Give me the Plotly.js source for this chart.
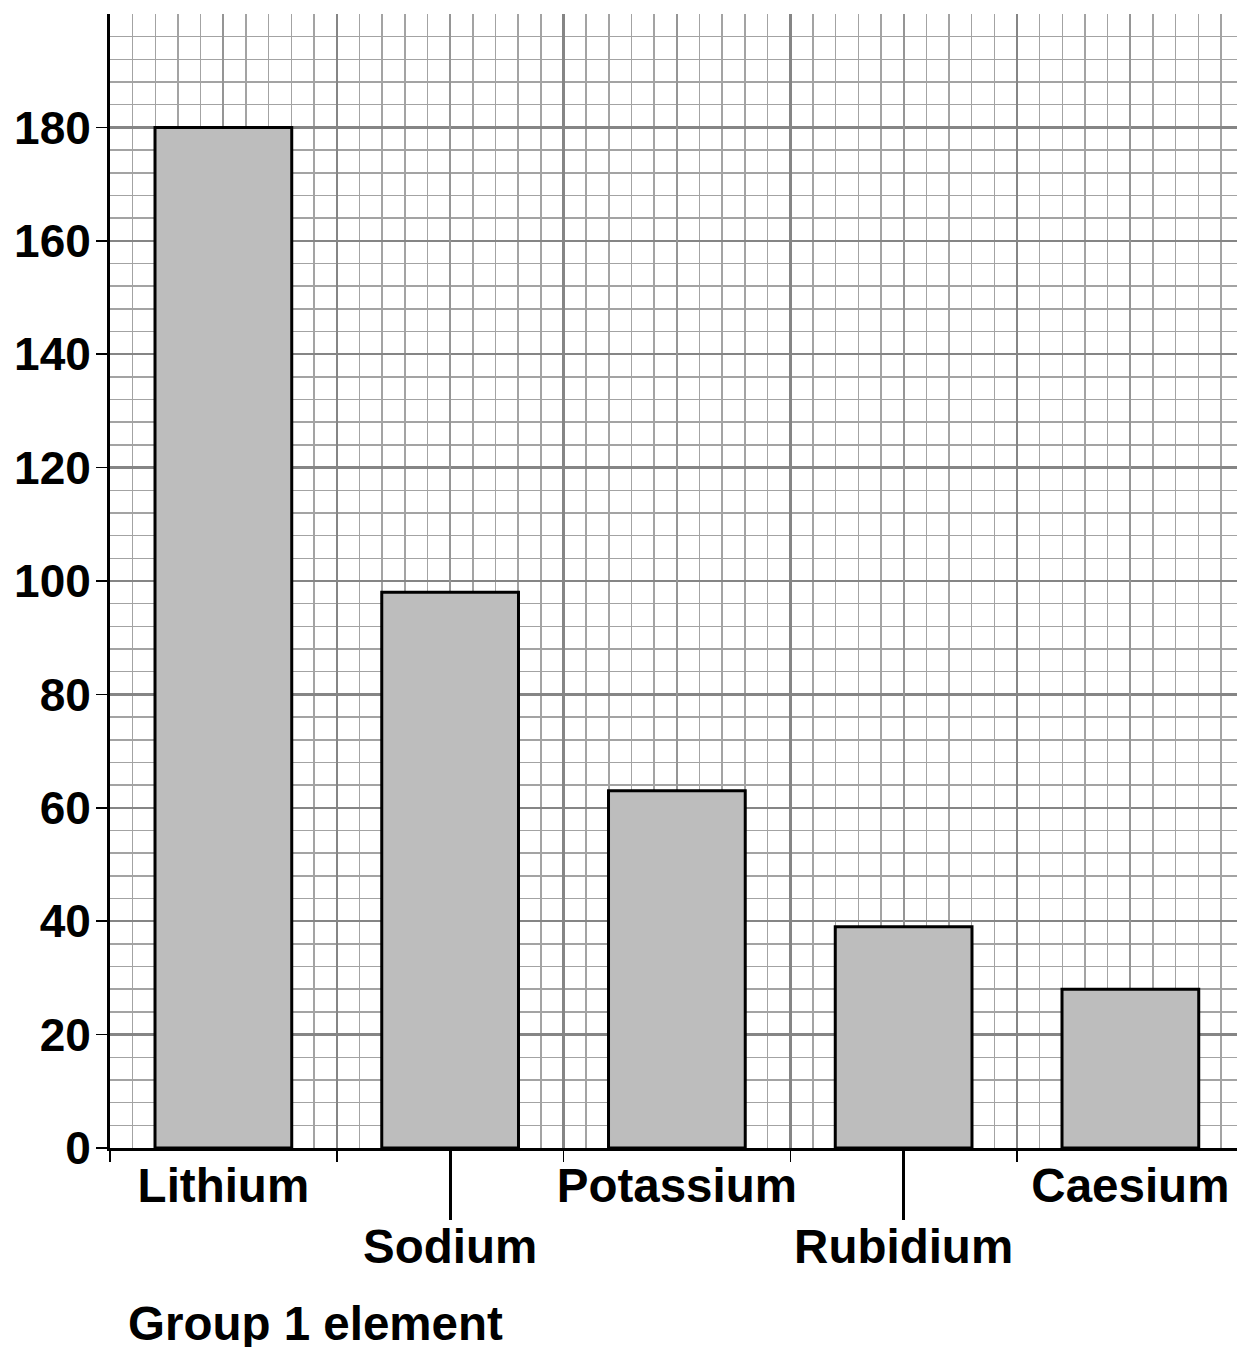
<!DOCTYPE html>
<html>
<head>
<meta charset="utf-8">
<script src="https://cdn.plot.ly/plotly-3.0.1.min.js"></script>
<style>
  html, body { margin: 0; padding: 0; background: #fff; }
  #chart { width: 1237px; height: 1348px; }
</style>
</head>
<body>
<div id="chart"></div>
<script>
// ---- data ----
const elements = ['Lithium', 'Sodium', 'Potassium', 'Rubidium', 'Caesium'];
const values = [180, 98, 63, 39, 28];
const yTickVals = [0, 20, 40, 60, 80, 100, 120, 140, 160, 180];
const xTitle = 'Group 1 element';

// ---- layout helpers ----
const FONT = 'Arial, "Liberation Sans", Helvetica, sans-serif';
const W = 1237, H = 1348;
const mL = 110, mR = 0, mT = 14, mB = 200;
const plotW = W - mL - mR;
const catPx = 226.75;
const xMax = -0.5 + plotW / catPx;
const xRange = [-0.5, xMax];

const idx = elements.map((_, i) => i);
const boundaries = [];
for (let i = 0; i < elements.length; i++) boundaries.push(i - 0.5);
const staggered = elements.map((e, i) => (i % 2 === 1 ? '<br>' + e : e));
const longTickIdx = idx.filter(i => i % 2 === 1);

const MAJOR = '#858585';
const MID = '#959595';
const MINOR = '#a3a3a3';

const traces = [
  {
    type: 'bar',
    x: idx,
    y: values,
    width: 0.603,
    marker: { color: '#bdbdbd', line: { color: '#000', width: 3 } },
    hoverinfo: 'skip',
    xaxis: 'x', yaxis: 'y'
  },
  { type: 'scatter', x: [0], y: [0], mode: 'none', xaxis: 'x2', yaxis: 'y', hoverinfo: 'skip', showlegend: false },
  { type: 'scatter', x: [0], y: [0], mode: 'none', xaxis: 'x3', yaxis: 'y', hoverinfo: 'skip', showlegend: false }
];

const layout = {
  width: W, height: H,
  margin: { l: mL, r: mR, t: mT, b: mB, pad: 0 },
  paper_bgcolor: '#fff', plot_bgcolor: '#fff',
  showlegend: false,
  font: { family: FONT, color: '#000' },
  xaxis: {
    range: xRange, autorange: false,
    tickmode: 'array', tickvals: boundaries,
    showticklabels: false,
    ticks: 'outside', ticklen: 11, tickwidth: 1.5, tickcolor: '#000',
    showgrid: true, gridcolor: MAJOR, gridwidth: 2.5,
    minor: { dtick: 0.1, tick0: -0.5, showgrid: true, gridcolor: MINOR, gridwidth: 1.5, ticks: '' },
    showline: true, linecolor: '#000', linewidth: 3,
    zeroline: false, fixedrange: true
  },
  xaxis2: {
    overlaying: 'x', anchor: 'y', side: 'bottom',
    range: xRange, autorange: false,
    tickmode: 'array', tickvals: idx, ticktext: staggered,
    tickangle: 0,
    ticks: '', ticklen: 0,
    ticklabelstandoff: 5,
    tickfont: { family: FONT, size: 47.5, color: '#000', weight: 'bold' },
    showgrid: true, gridcolor: MID, gridwidth: 2,
    showline: false, zeroline: false, fixedrange: true
  },
  xaxis3: {
    overlaying: 'x', anchor: 'y', side: 'bottom',
    range: xRange, autorange: false,
    tickmode: 'array', tickvals: longTickIdx,
    showticklabels: false,
    ticks: 'outside', ticklen: 71, tickwidth: 3, tickcolor: '#000',
    showgrid: false, showline: false, zeroline: false, fixedrange: true
  },
  yaxis: {
    range: [0, 200], autorange: false,
    tickmode: 'array', tickvals: yTickVals,
    ticks: 'outside', ticklen: 11, tickwidth: 1.5, tickcolor: '#000',
    ticklabelstandoff: -4,
    tickfont: { family: FONT, size: 46, color: '#000', weight: 'bold' },
    showgrid: true, gridcolor: MAJOR, gridwidth: 2.5,
    minor: { dtick: 4, tick0: 0, showgrid: true, gridcolor: MINOR, gridwidth: 1.5, ticks: '' },
    showline: true, linecolor: '#000', linewidth: 3,
    zeroline: false, fixedrange: true
  },
  annotations: [
    {
      text: '<b>' + xTitle + '</b>',
      xref: 'paper', yref: 'paper',
      x: (126 - mL) / plotW, y: -(1323 - 1147.7) / (H - mT - mB),
      xanchor: 'left', yanchor: 'middle',
      height: 48, valign: 'middle',
      showarrow: false,
      font: { family: FONT, size: 47.5, color: '#000' }
    }
  ]
};

Plotly.newPlot('chart', traces, layout, { displayModeBar: false, staticPlot: true });
</script>
</body>
</html>
